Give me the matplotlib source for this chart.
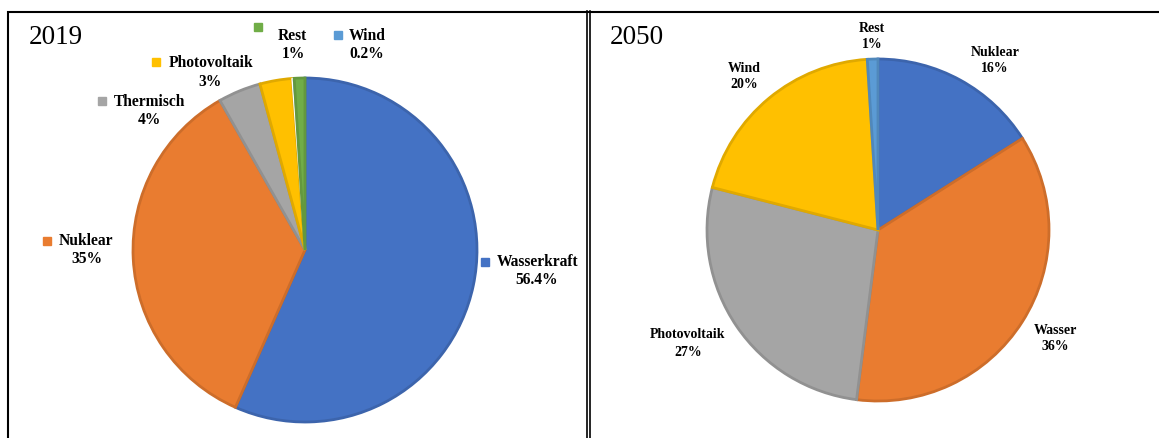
import matplotlib
matplotlib.use("Agg")
import matplotlib.pyplot as plt
import numpy as np

# ── Data ─────────────────────────────────────────────────────────────────────
labels_2019 = ["Wasserkraft", "Nuklear", "Thermisch", "Photovoltaik", "Wind", "Rest"]
values_2019 = [56.4, 35, 4, 3, 0.2, 1]
pct_2019 = ["56.4%", "35%", "4%", "3%", "0.2%", "1%"]

labels_2050 = ["Nuklear", "Wasser", "Photovoltaik", "Wind", "Rest"]
values_2050 = [16, 36, 27, 20, 1]
pct_2050 = ["16%", "36%", "27%", "20%", "1%"]

# ── Style ────────────────────────────────────────────────────────────────────
C = {
    "blue": "#4472C4", "orange": "#E97C30", "gray": "#A5A5A5",
    "yellow": "#FFC000", "lblue": "#5B9BD5", "green": "#70AD47",
}
colors_2019 = [C["blue"], C["orange"], C["gray"], C["yellow"], C["lblue"], C["green"]]
colors_2050 = [C["blue"], C["orange"], C["gray"], C["yellow"], C["lblue"]]

W, H = 1159, 438
SERIF = ["Liberation Serif", "DejaVu Serif"]


def darker(c, f=0.88):
    r, g, b = matplotlib.colors.to_rgb(c)
    return (r * f, g * f, b * f)


# label layout in pixel coords (y from top): name centre, pct centre, marker
lay_2019 = {
    "Wasserkraft":  ((538, 262), (537, 280), (485, 262)),
    "Nuklear":      ((86, 241), (87, 259), (47, 241)),
    "Thermisch":    ((150, 102), (149, 120), (102, 101)),
    "Photovoltaik": ((211, 63), (210, 82), (156, 62)),
    "Wind":         ((367, 36), (367, 54), (338, 35)),
    "Rest":         ((292, 36), (293, 54), (258, 27)),
}
lay_2050 = {
    "Nuklear":      ((995, 52), (995, 68)),
    "Wasser":       ((1055, 330), (1055, 347)),
    "Photovoltaik": ((688, 335), (688, 352)),
    "Wind":         ((744, 68), (744, 84)),
    "Rest":         ((872, 28), (872, 44)),
}

fig = plt.figure(figsize=(W / 100, H / 100), dpi=100, facecolor="white")
ax = fig.add_axes([0, 0, 1, 1])


def py(y):
    return H - y


def draw_pie(values, colors, center, radius):
    wedges, _ = ax.pie(values, colors=colors, startangle=90, counterclock=False,
                       center=(center[0], py(center[1])), radius=radius,
                       wedgeprops=dict(linewidth=2.0))
    for w, c in zip(wedges, colors):
        w.set_edgecolor(darker(c))
    return wedges


w19 = draw_pie(values_2019, colors_2019, (305, 250), 172)
w19[4].set_edgecolor("white")
w19[4].set_linewidth(1.0)
draw_pie(values_2050, colors_2050, (878, 230), 171)

# ── Labels ───────────────────────────────────────────────────────────────────
for name, pct, col in zip(labels_2019, pct_2019, colors_2019):
    (nx, ny), (px, pyy), (mx, my) = lay_2019[name]
    ax.text(nx, py(ny), name, ha="center", va="center", fontsize=11.2,
            fontweight="bold", family=SERIF)
    ax.text(px, py(pyy), pct, ha="center", va="center", fontsize=11.2,
            fontweight="bold", family=SERIF)
    ax.plot(mx, py(my), marker="s", markersize=5.5, color=col, linestyle="none")

for name, pct in zip(labels_2050, pct_2050):
    (nx, ny), (px, pyy) = lay_2050[name]
    ax.text(nx, py(ny), name, ha="center", va="center", fontsize=10,
            fontweight="bold", family=SERIF)
    ax.text(px, py(pyy), pct, ha="center", va="center", fontsize=10,
            fontweight="bold", family=SERIF)

ax.text(29, py(37), "2019", ha="left", va="center", fontsize=19.5, family=SERIF)
ax.text(610, py(37), "2050", ha="left", va="center", fontsize=19.5, family=SERIF)

# ── Panel borders ────────────────────────────────────────────────────────────
bk = dict(color="black", linewidth=1.5, solid_capstyle="butt")
ax.plot([7, W], [py(11.5), py(11.5)], **bk)
ax.plot([8, 8], [py(11), 0], **bk)
ax.plot([586.8, 586.8], [py(11), 0], color="black", linewidth=1.2)
ax.plot([589.6, 589.6], [py(11), 0], color="black", linewidth=1.2)

ax.set_xlim(0, W)
ax.set_ylim(0, H)
ax.set_aspect("equal")
ax.axis("off")

fig.savefig("out.png", dpi=100, facecolor="white")
